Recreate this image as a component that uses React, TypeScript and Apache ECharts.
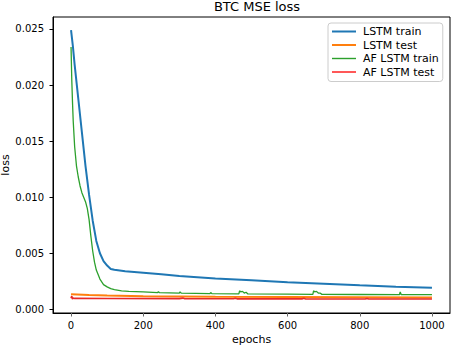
import React, { useEffect, useRef } from "react";
import * as echarts from "echarts";

const titleText = "BTC MSE loss";
const seriesNames = ["LSTM train", "LSTM test", "AF LSTM train", "AF LSTM test"];
const xTicks = [0, 200, 400, 600, 800, 1000];
const yTicks = [0, 0.005, 0.01, 0.015, 0.02, 0.025];

const lstmTrainEpochs = [0, 5, 10, 20, 30, 40, 50, 60, 70, 80, 90, 100, 110, 120, 130, 150, 200, 250, 300, 400, 500, 600, 700, 800, 900, 1000];
const lstmTrainLoss = [0.0249, 0.0235, 0.0218, 0.0188, 0.0158, 0.0128, 0.0102, 0.0079, 0.0061, 0.005, 0.0043, 0.0039, 0.0036, 0.00352, 0.00348, 0.0034, 0.00326, 0.00312, 0.00298, 0.00274, 0.00258, 0.00242, 0.00228, 0.00214, 0.00202, 0.00193];

const lstmTestEpochs = [0, 50, 100, 200, 400, 600, 800, 1000];
const lstmTestLoss = [0.00135, 0.00128, 0.00122, 0.00117, 0.00112, 0.00109, 0.00107, 0.00105];

const afTrainEpochs = [0, 2, 4, 6, 10, 15, 20, 25, 30, 35, 40, 45, 50, 55, 60, 65, 70, 80, 90, 100, 110, 120, 140, 160, 200, 240, 242, 245, 300, 302, 305, 385, 387, 390, 465, 467, 470, 475, 480, 485, 490, 600, 670, 672, 675, 680, 685, 690, 695, 800, 910, 912, 915, 1000];
const afTrainLoss = [0.0234, 0.0205, 0.0185, 0.0168, 0.0145, 0.0128, 0.0118, 0.011, 0.0104, 0.01, 0.0096, 0.009, 0.008, 0.0065, 0.0052, 0.0042, 0.0035, 0.0027, 0.0022, 0.002, 0.00185, 0.00175, 0.00165, 0.0016, 0.00155, 0.00148, 0.00158, 0.00148, 0.00145, 0.00155, 0.00145, 0.0014, 0.0015, 0.0014, 0.00138, 0.00165, 0.00155, 0.0016, 0.00145, 0.00152, 0.00137, 0.00135, 0.00134, 0.00165, 0.00155, 0.0016, 0.00145, 0.00145, 0.00133, 0.00132, 0.0013, 0.00155, 0.0013, 0.0013];

const afTestEpochs = [0, 2, 4, 6, 10, 100, 300, 310, 315, 450, 455, 460, 640, 645, 650, 815, 820, 825, 1000];
const afTestLoss = [0.00098, 0.00118, 0.00092, 0.001, 0.00097, 0.00096, 0.00095, 0.001, 0.00094, 0.00094, 0.00099, 0.00093, 0.00093, 0.00098, 0.00092, 0.00092, 0.00097, 0.00092, 0.00092];

const colors = ["#1f77b4", "#ff7f0e", "#2ca02c", "#e8282a"];
const widths = [2, 2, 1.3, 1.6];
const legendIcons = [
  "path://M0,0H24V2H0Z",
  "path://M0,0H24V2H0Z",
  "path://M0,0H24V1.4H0Z",
  "path://M0,0H24V1.4H0Z",
];
const legendColors = ["#1f77b4", "#ff7f0e", "#2ca02c", "#ff1010"];

const FONT = "DejaVu Sans";

function pairs(xs: number[], ys: number[]) {
  return xs.map((x, i) => [x, ys[i]]);
}

export default function App() {
  const ref = useRef<HTMLDivElement>(null);
  useEffect(() => {
    if (!ref.current) return;
    const chart = echarts.init(ref.current, undefined, { renderer: "svg" });
    const datasets = [
      pairs(lstmTrainEpochs, lstmTrainLoss),
      pairs(lstmTestEpochs, lstmTestLoss),
      pairs(afTrainEpochs, afTrainLoss),
      pairs(afTestEpochs, afTestLoss),
    ];
    chart.setOption({
      animation: false,
      backgroundColor: "#ffffff",
      textStyle: { fontFamily: FONT },
      title: {
        text: titleText,
        left: 252,
        textAlign: "center",
        top: -5,
        textStyle: { fontFamily: FONT, fontSize: 13, fontWeight: "normal", color: "#000" },
      },
      legend: {
        orient: "vertical",
        left: 328,
        top: 23,
        padding: [3, 4, 4, 4],
        itemWidth: 24,
        itemHeight: 14,
        itemGap: 2.5,
        symbolKeepAspect: true,
        backgroundColor: "rgba(255,255,255,0.8)",
        borderColor: "#cccccc",
        borderWidth: 1,
        borderRadius: 3,
        textStyle: { fontFamily: FONT, fontSize: 11, color: "#000", padding: [0, 0, 0, 2] },
        data: seriesNames.map((name, i) => ({
          name,
          icon: legendIcons[i],
          itemStyle: { color: legendColors[i] },
        })),
      },
      grid: {
        left: 53,
        right: 2,
        top: 17,
        bottom: 35,
        containLabel: false,
        outerBoundsMode: "none",
        show: true,
        borderColor: "#000",
        borderWidth: 1,
        backgroundColor: "transparent",
      },
      xAxis: {
        type: "value",
        min: -50,
        max: 1050,
        name: "epochs",
        nameLocation: "middle",
        nameGap: 21,
        nameMoveOverlap: false,
        nameTextStyle: { fontFamily: FONT, fontSize: 11, color: "#000" },
        axisLine: { show: true, onZero: false, lineStyle: { color: "#000", width: 1 } },
        axisTick: { show: true, length: 3.5, customValues: xTicks, lineStyle: { color: "#666" } },
        axisLabel: {
          customValues: xTicks,
          fontFamily: FONT,
          fontSize: 10,
          color: "#000",
          margin: 7,
          formatter: (v: number) => String(v),
        },
        splitLine: { show: false },
      },
      yAxis: {
        type: "value",
        min: -0.00033,
        max: 0.02607,
        name: "loss",
        nameLocation: "middle",
        nameGap: 42,
        nameMoveOverlap: false,
        nameTextStyle: { fontFamily: FONT, fontSize: 11, color: "#000" },
        axisLine: { show: true, onZero: false, lineStyle: { color: "#000", width: 1 } },
        axisTick: { show: true, length: 3.5, customValues: yTicks, lineStyle: { color: "#000" } },
        axisLabel: {
          customValues: yTicks,
          fontFamily: FONT,
          fontSize: 10,
          color: "#000",
          margin: 9,
          formatter: (v: number) => v.toFixed(3),
        },
        splitLine: { show: false },
      },
      series: seriesNames.map((name, i) => ({
        name,
        type: "line",
        data: datasets[i],
        symbol: "none",
        showSymbol: false,
        smooth: false,
        color: colors[i],
        itemStyle: { color: colors[i] },
        lineStyle: { color: colors[i], width: widths[i] },
        z: 2 + i,
      })),
    });
    return () => chart.dispose();
  }, []);
  return (
    <div
      ref={ref}
      style={{ position: "absolute", left: 0, top: 0, width: 452, height: 348 }}
    />
  );
}
